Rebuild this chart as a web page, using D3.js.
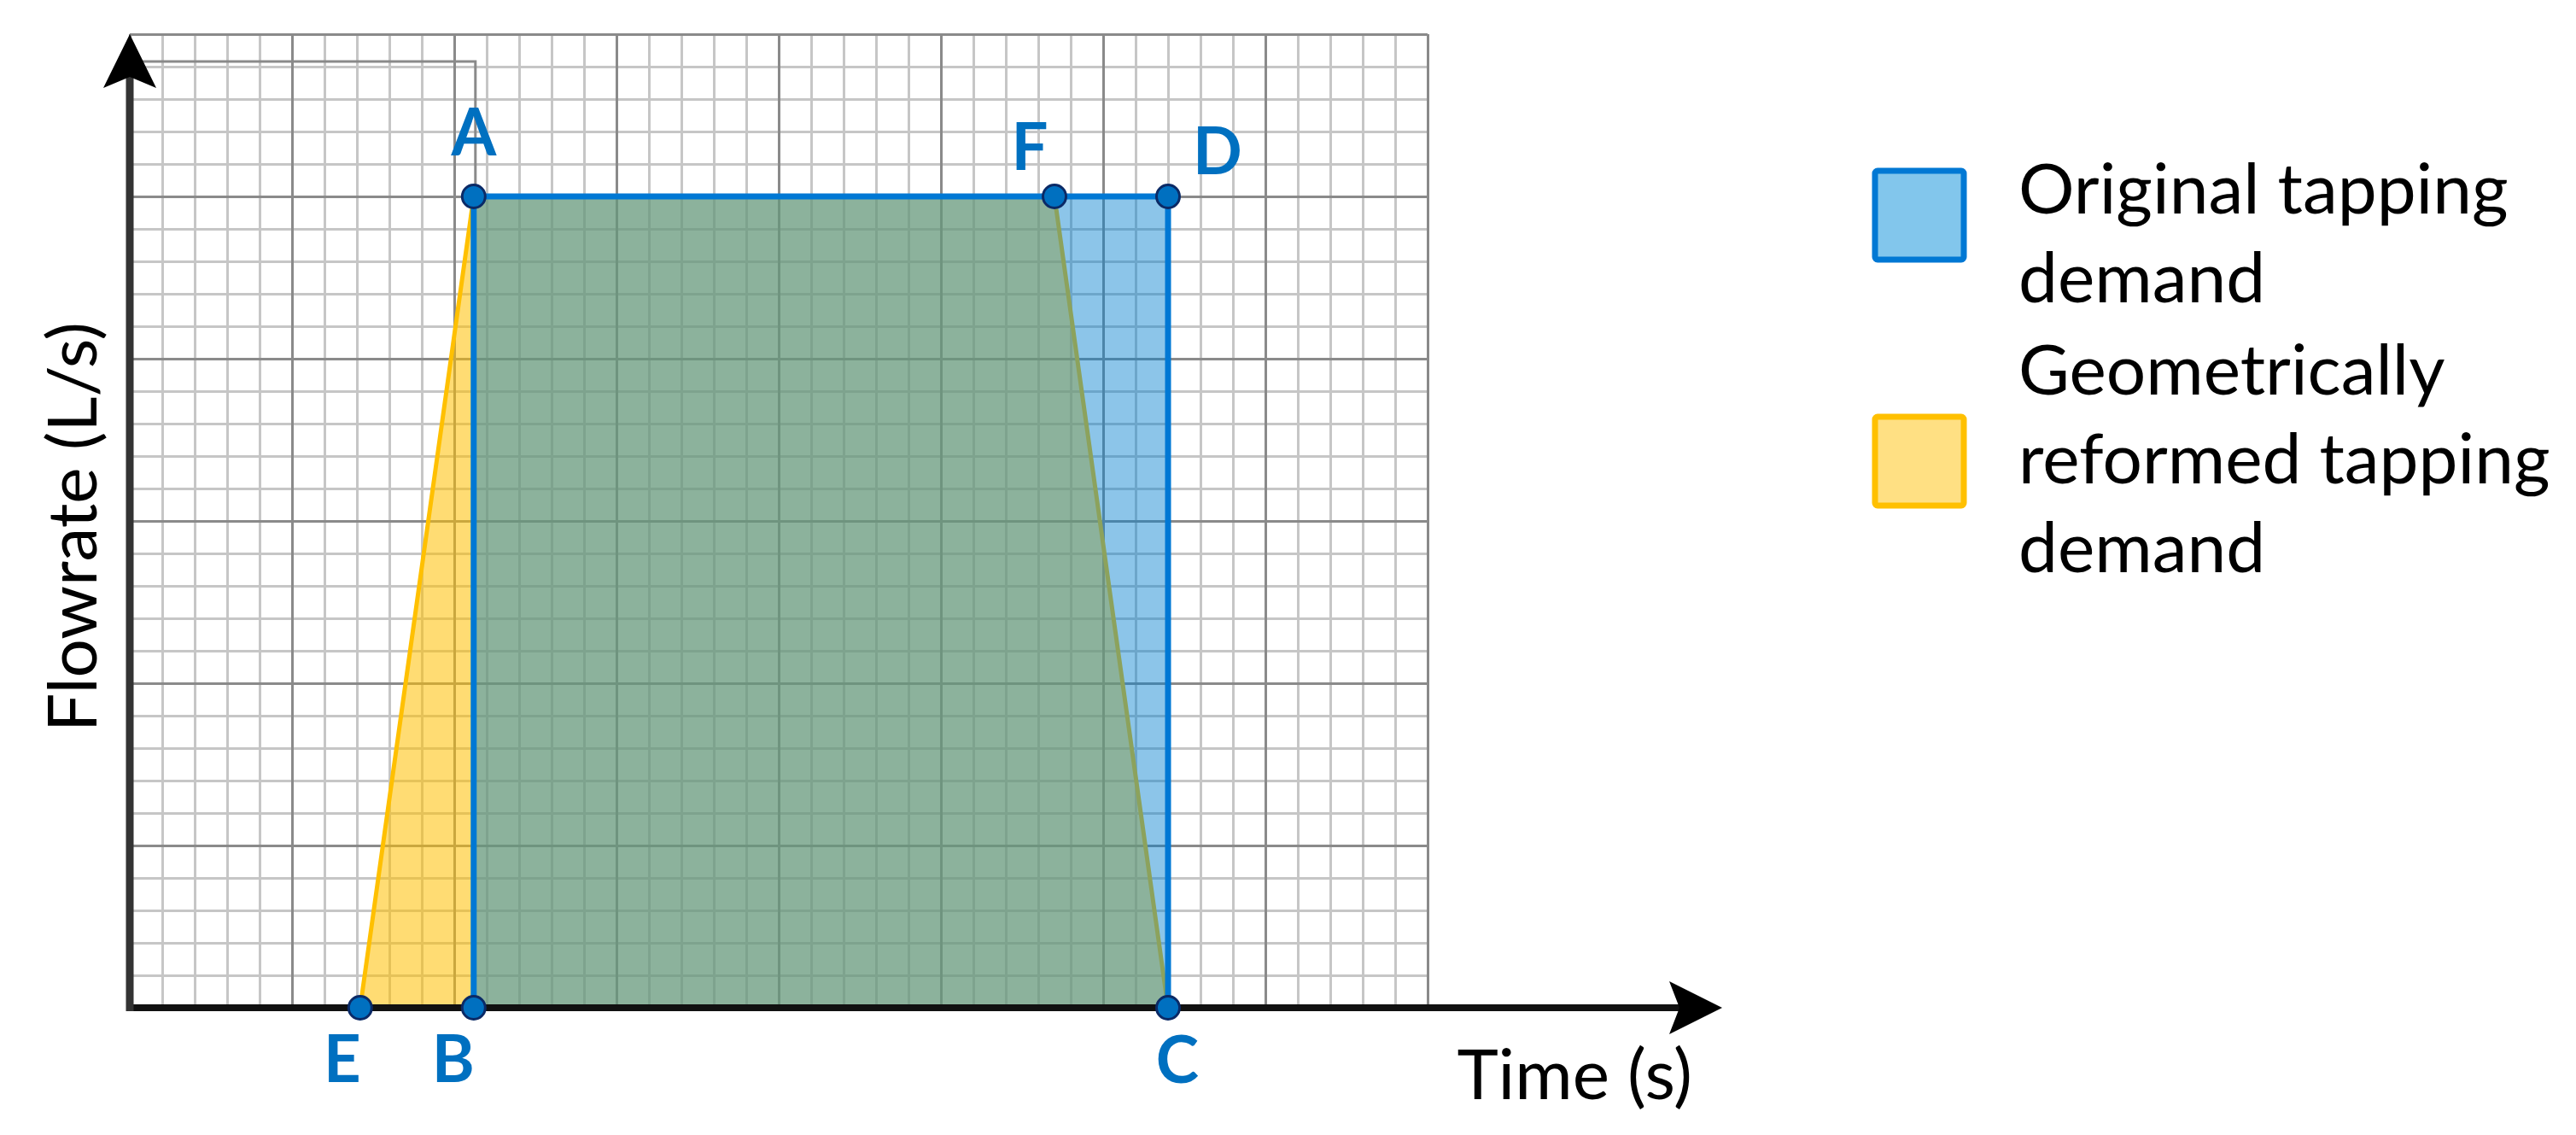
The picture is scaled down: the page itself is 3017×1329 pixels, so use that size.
<!DOCTYPE html>
<html>
<head>
<meta charset="utf-8">
<script src="https://cdn.jsdelivr.net/npm/d3@7/dist/d3.min.js"></script>
<style>
  body { margin: 0; background: #fff; }
  text { font-family: Lato, "Open Sans", sans-serif; }
</style>
</head>
<body>
<div class="chart"></div>
<script>
// point data, in grid units (1 unit = one small square of the grid)
const pointNames = ["A", "B", "C", "D", "E", "F"];
const pointTime = [10.6, 10.6, 32, 32, 7.1, 28.5];
const pointFlow = [25, 0, 0, 25, 0, 25];

// the two demand shapes, as the order of their corner points
const originalDemand = ["B", "A", "D", "C"];
const reformedDemand = ["E", "A", "F", "C"];

// legend
const legendNames = ["original", "reformed"];
const legendLines = [["Original tapping", "demand"], ["Geometrically", "reformed tapping", "demand"]];

// extent of the grid and spacing of the darker lines
const timeMax = 40;
const flowMax = 30;
const majorStep = 5;

//create chart area
let svgWidth = 3017;
let svgHeight = 1329;

let margin = { top: 40, right: 1345, bottom: 149, left: 152 };

let width = svgWidth - margin.left - margin.right;
let height = svgHeight - margin.top - margin.bottom;

// label offsets from each point, in pixels
let labelOffset = {
  A: [0, -48], B: [-24, 87], C: [11, 88],
  D: [58, -26], E: [-21, 87], F: [-29, -31]
};

let blue = "#0078d4";
let pointBlue = "#0070c0";
let yellow = "#ffc000";

var svg = d3.select(".chart")
  .append("svg")
  .attr("width", svgWidth)
  .attr("height", svgHeight)
  .style("background", "#fff");

var chartGroup = svg.append("g")
  .attr("transform", `translate(${margin.left}, ${margin.top})`);

let xScale = d3.scaleLinear().domain([0, timeMax]).range([0, width]);
let yScale = d3.scaleLinear().domain([0, flowMax]).range([height, 0]);

let minorX = d3.range(0, timeMax + 1).filter(d => d % majorStep !== 0);
let minorY = d3.range(0, flowMax + 1).filter(d => d % majorStep !== 0);
let majorX = d3.range(0, timeMax + 1, majorStep);
let majorY = d3.range(0, flowMax + 1, majorStep);

// grid lines drawn with axis generators
function drawGrid(xVals, yVals, colour) {
  let gx = chartGroup.append("g")
    .attr("transform", `translate(0, ${height})`)
    .call(d3.axisBottom(xScale).tickValues(xVals).tickSize(-height).tickFormat(""));
  let gy = chartGroup.append("g")
    .call(d3.axisLeft(yScale).tickValues(yVals).tickSize(-width).tickFormat(""));
  [gx, gy].forEach(g => {
    g.select(".domain").remove();
    g.selectAll("line").attr("stroke", colour).attr("stroke-width", 3);
  });
}
drawGrid(minorX, minorY, "#c6c6c6");
drawGrid(majorX, majorY, "#8a8a8a");

// lookup of the points by name
let points = pointNames.map((name, i) => ({ name: name, t: pointTime[i], q: pointFlow[i] }));
let byName = {};
points.forEach(p => byName[p.name] = p);

let shapeLine = d3.line()
  .x(n => xScale(byName[n].t))
  .y(n => yScale(byName[n].q));

// leftover guide outline near the top left corner
let pA = byName["A"];
chartGroup.append("path")
  .attr("d", `M0,${yScale(flowMax) + 32}H${xScale(pA.t) + 2}V${yScale(pA.q)}`)
  .attr("fill", "none")
  .attr("stroke", "#8a8a8a")
  .attr("stroke-width", 3);

// reformed demand (under)
chartGroup.append("path")
  .attr("d", shapeLine(reformedDemand) + "Z")
  .attr("fill", yellow)
  .attr("fill-opacity", 0.55)
  .attr("stroke", "none");
chartGroup.append("path")
  .attr("d", shapeLine(reformedDemand))
  .attr("fill", "none")
  .attr("stroke", yellow)
  .attr("stroke-width", 5)
  .attr("stroke-linejoin", "round");

// original demand (over)
chartGroup.append("path")
  .attr("d", shapeLine(originalDemand) + "Z")
  .attr("fill", "rgb(0,127,207)")
  .attr("fill-opacity", 0.45)
  .attr("stroke", "none");
chartGroup.append("path")
  .attr("d", shapeLine(originalDemand))
  .attr("fill", "none")
  .attr("stroke", blue)
  .attr("stroke-width", 7)
  .attr("stroke-linejoin", "miter");

// axes with arrow heads
chartGroup.append("line")
  .attr("x1", 0).attr("x2", width + 300)
  .attr("y1", height).attr("y2", height)
  .attr("stroke", "#111").attr("stroke-width", 8);
chartGroup.append("line")
  .attr("x1", 0).attr("x2", 0)
  .attr("y1", height + 4).attr("y2", 30)
  .attr("stroke", "#333").attr("stroke-width", 9);

let xTip = width + 345;
chartGroup.append("path")
  .attr("d", `M${xTip},${height} L${xTip - 62},${height - 31} L${xTip - 50},${height} L${xTip - 62},${height + 31} Z`)
  .attr("fill", "#000");
chartGroup.append("path")
  .attr("d", `M0,0 L31,63 L0,50 L-31,63 Z`)
  .attr("fill", "#000");

// points
chartGroup.selectAll("circle.pt")
  .data(points)
  .enter()
  .append("circle")
  .attr("class", "pt")
  .attr("cx", d => xScale(d.t))
  .attr("cy", d => yScale(d.q))
  .attr("r", 13.5)
  .attr("fill", pointBlue)
  .attr("stroke", "#0b2a66")
  .attr("stroke-width", 3);

chartGroup.selectAll("text.pt")
  .data(points)
  .enter()
  .append("text")
  .attr("class", "pt")
  .attr("x", d => xScale(d.t) + labelOffset[d.name][0])
  .attr("y", d => yScale(d.q) + labelOffset[d.name][1])
  .attr("text-anchor", "middle")
  .attr("font-size", 76)
  .attr("font-weight", "bold")
  .attr("fill", pointBlue)
  .text(d => d.name);

// axis titles
svg.append("text")
  .attr("x", 1982)
  .attr("y", 1287)
  .attr("text-anchor", "end")
  .attr("font-size", 82)
  .attr("fill", "#000")
  .text("Time (s)");

svg.append("text")
  .attr("transform", "translate(113, 617) rotate(-90)")
  .attr("text-anchor", "middle")
  .attr("font-size", 80)
  .attr("fill", "#000")
  .text("Flowrate (L/s)");

// legend
let legendFill = { original: "#82c6ec", reformed: "#ffe083" };
let legendStroke = { original: blue, reformed: yellow };
let legendBoxTop = [200, 488];
let legendBaseline = [250, 462];
let lineGap = 104;

let legend = svg.append("g");
legendNames.forEach((name, i) => {
  legend.append("rect")
    .attr("x", 2196)
    .attr("y", legendBoxTop[i])
    .attr("width", 104)
    .attr("height", 104)
    .attr("rx", 3)
    .attr("fill", legendFill[name])
    .attr("stroke", legendStroke[name])
    .attr("stroke-width", 7);
  legendLines[i].forEach((line, j) => {
    legend.append("text")
      .attr("x", 2364)
      .attr("y", legendBaseline[i] + j * lineGap)
      .attr("font-size", 82)
      .attr("fill", "#000")
      .text(line);
  });
});
</script>
</body>
</html>
